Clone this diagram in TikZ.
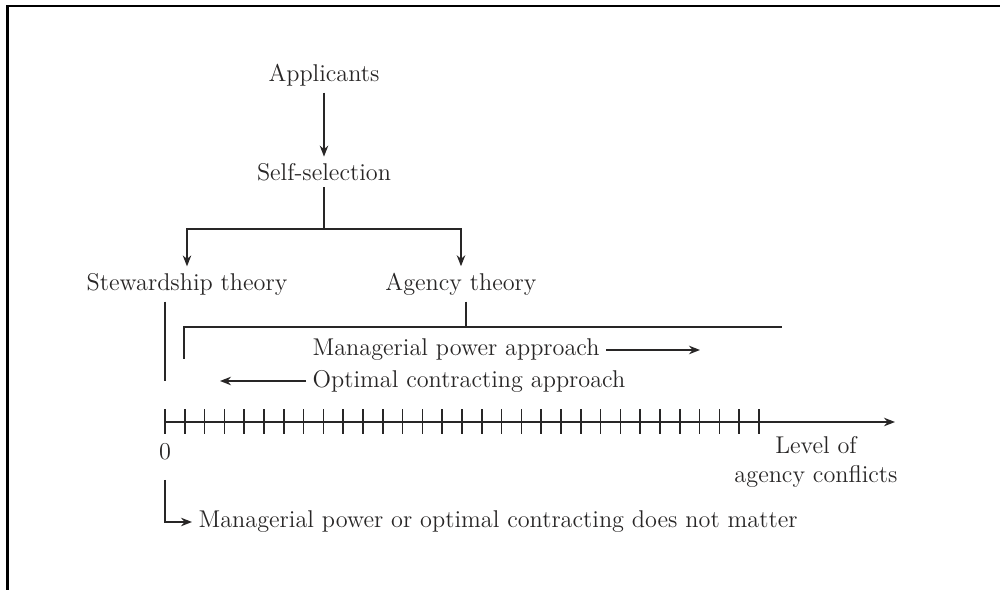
\documentclass[tikz,border=0pt]{standalone}
\usepackage{tikz}
\usetikzlibrary{arrows.meta}
\definecolor{ink}{RGB}{40,38,38}

\begin{document}
\begin{tikzpicture}[x=0.02cm,y=-0.02cm,>={Stealth[length=2.2mm,width=1.7mm]},line width=0.85pt,draw=ink,
	every node/.style={font=\fontsize{13.8}{16.5}\selectfont,text=ink}]
					\useasboundingbox (0,0) rectangle (1000,590);
					\draw[line width=1.5pt,black] (7.5,590) |- (1000,6);
					\node (app) at (324,75) {Applicants};
					\node (self) at (324,172) {Self-selection};
					\node (stew) at (187,284) {Stewardship theory};
					\node (agency) at (461,284) {Agency theory};
					\node[anchor=west] (mpa) at (306,350) {Managerial power approach};
					\node[anchor=west] (oca) at (306,381) {Optimal contracting approach};
					\node (zero) at (165,452) {0};
					\node[align=center] (level) at (816,462) {Level of\\agency conflicts};
					\node[anchor=west] (nomatter) at (192,522) {Managerial power or optimal contracting does not matter};
					\coordinate (split) at (324,229);
					\coordinate (stewend) at (165,381);
					\coordinate (brktop) at (466,327);
					\coordinate (brkL) at (184,359);
					\coordinate (brkR) at (782,327);
					\coordinate (mpaend) at (700,350);
					\coordinate (ocaend) at (220,381);
					\coordinate (origin) at (165,422);
					\coordinate (axisend) at (895,422);
					\draw[->] (app) to (self);
					\draw (self) to (split);
					\draw[->] (split) -| (stew);
					\draw[->] (split) -| (agency);
					\draw (stew.south -| stewend) to (stewend);
					\draw (agency.south -| brktop) to (brktop);
					\draw (brkL) |- (brkR);
					\draw[->] (mpa) to (mpaend);
					\draw[->] (oca) to (ocaend);
					\draw[->] (origin) to (axisend);
					\foreach \i in {0,...,30}
						\draw ({165+\i*19.8},409.5) -- ({165+\i*19.8},434.5);
					\draw[->] (zero) ++(0,28) |- (nomatter);
				\end{tikzpicture}
\end{document}
